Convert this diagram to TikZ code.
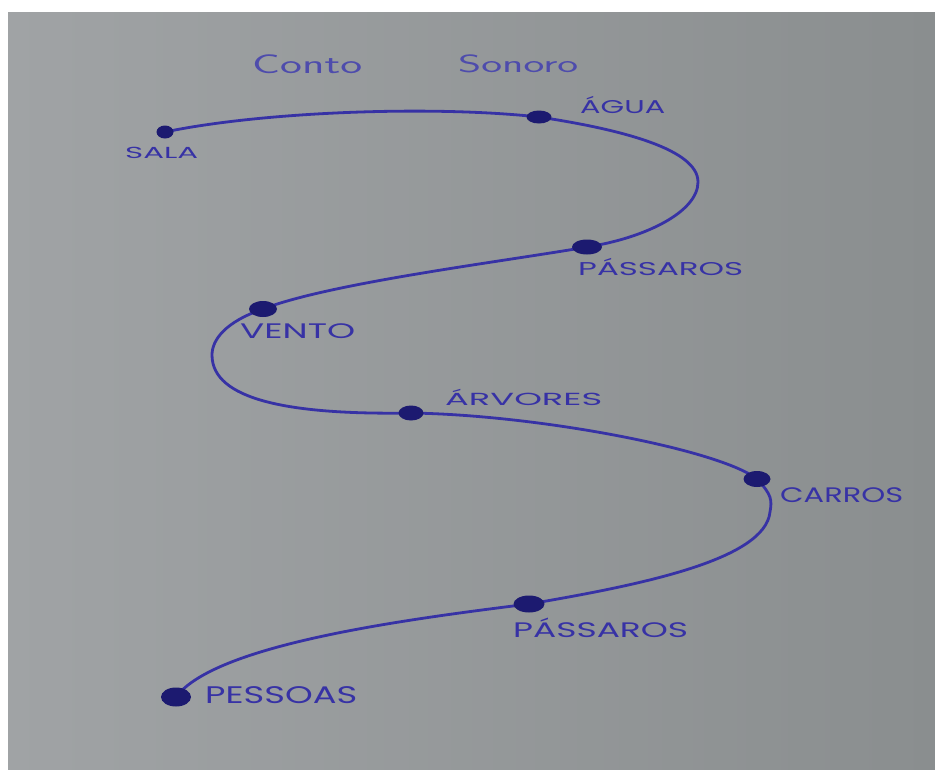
\documentclass[tikz,border=0pt]{standalone}
\usepackage{fontspec}
\setmainfont{Poppins}
\usetikzlibrary{shapes.geometric}
\definecolor{ink}{RGB}{55,50,165}
\definecolor{dotink}{RGB}{28,26,112}
\definecolor{titleink}{RGB}{78,76,172}
\definecolor{paperL}{RGB}{160,163,165}
\definecolor{paperR}{RGB}{138,142,143}
\newcommand{\wlab}[2]{\resizebox{#1pt}{\height}{#2}}
\pgfdeclarelayer{paper}
\pgfdeclarelayer{curve}
\pgfsetlayers{paper,curve,main}
\begin{document}
\begin{tikzpicture}[x=1pt,y=-1pt,
  dotnode/.style={ellipse, fill=dotink, inner sep=0pt},
  lab/.style={text=ink, inner sep=0pt, anchor=base west, font=\fontsize{#1}{#1}\selectfont},
  ttl/.style={text=titleink, inner sep=0pt, anchor=base west, font=\sffamily\fontsize{#1}{#1}\selectfont},
  inkpath/.style={draw=ink, line width=2.8pt, line cap=round}]
\begin{pgfonlayer}{paper}
\fill[white] (0,0) rectangle (935,769);
\shade[left color=paperL, right color=paperR] (8,12) rectangle (935,769);
\end{pgfonlayer}
% title
\node[ttl=27] (conto) at (252,73) {\wlab{110}{Conto}};
\node[ttl=25] (sonoro) at (458,72) {\wlab{120}{Sonoro}};
% dots
\node[dotnode, minimum width=17pt, minimum height=13pt] (sala) at (165,132) {};
\node[dotnode, minimum width=25pt, minimum height=13pt] (agua) at (539,117) {};
\node[dotnode, minimum width=30pt, minimum height=15pt] (pas1) at (587,247) {};
\node[dotnode, minimum width=28pt, minimum height=16pt] (vento) at (263,309) {};
\node[dotnode, minimum width=25pt, minimum height=15pt] (arv) at (411,413) {};
\node[dotnode, minimum width=27pt, minimum height=16pt] (carros) at (757,479) {};
\node[dotnode, minimum width=31pt, minimum height=17pt] (pas2) at (529,604) {};
\node[dotnode, minimum width=30pt, minimum height=19pt] (pessoas) at (176,697) {};
% turning points
\coordinate (r1) at (698,182);
\coordinate (l1) at (212,355);
\coordinate (r2) at (770,512);
% labels
\node[lab=16] (lsala) at (125,158) {\wlab{73}{SALA}};
\node[lab=18.5] (lagua) at (580,113) {\wlab{85}{ÁGUA}};
\node[lab=18.5] (lpas1) at (578,275) {\wlab{165}{PÁSSAROS}};
\node[lab=21] (lvento) at (240,338) {\wlab{115}{VENTO}};
\node[lab=17.5] (larv) at (445,405) {\wlab{157}{ÁRVORES}};
\node[lab=21] (lcarros) at (780,502) {\wlab{123}{CARROS}};
\node[lab=21] (lpas2) at (513,637) {\wlab{175}{PÁSSAROS}};
\node[lab=24] (lpessoas) at (205,703) {\wlab{152}{PESSOAS}};
% curve
\begin{pgfonlayer}{curve}
\draw[inkpath] (sala.center) .. controls (260,112) and (430,105) .. (agua.center)
 .. controls (625,130) and (698,150) .. (r1)
 .. controls (698,212) and (645,238) .. (pas1.center)
 .. controls (500,262) and (330,283) .. (vento.center)
 .. controls (225,322) and (212,340) .. (l1)
 .. controls (212,400) and (290,415) .. (arv.center)
 .. controls (540,415) and (720,450) .. (carros.center)
 .. controls (772,495) and (772,500) .. (r2)
 .. controls (765,560) and (640,585) .. (pas2.center)
 .. controls (400,620) and (215,645) .. (pessoas.center);
\end{pgfonlayer}
\end{tikzpicture}
\end{document}
